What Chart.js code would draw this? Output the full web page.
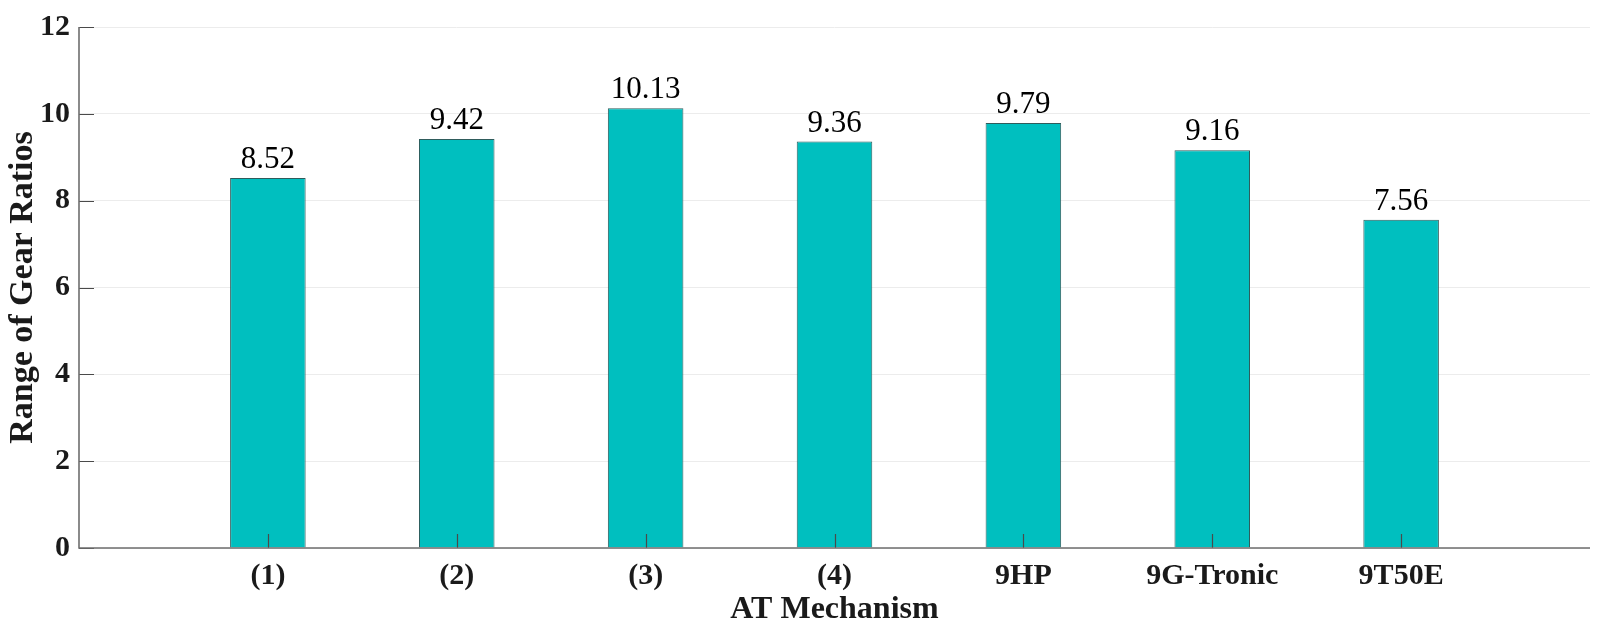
<!DOCTYPE html>
<html>
<head>
<meta charset="utf-8">
<script src="https://cdn.jsdelivr.net/npm/chart.js@4"></script>
<style>
  html, body { margin: 0; padding: 0; background: #fff; }
  #wrap { width: 1600px; height: 629px; }
</style>
</head>
<body>
<div id="wrap"><canvas id="c" width="1600" height="629"></canvas></div>
<script>
const categories = ['(1)', '(2)', '(3)', '(4)', '9HP', '9G-Tronic', '9T50E'];
const gearRange = [8.52, 9.42, 10.13, 9.36, 9.79, 9.16, 7.56];
const yTicks = [0, 2, 4, 6, 8, 10, 12];
const xTitle = 'AT Mechanism';
const yTitle = 'Range of Gear Ratios';

const FONT = '"Liberation Serif", "Times New Roman", serif';

const innerTicks = {
  id: 'innerTicks',
  afterDatasetsDraw(chart) {
    const ctx = chart.ctx;
    const xs = chart.scales.x, ys = chart.scales.y;
    ctx.save();
    ctx.strokeStyle = '#4a4a4a';
    ctx.lineWidth = 1.2;
    ctx.beginPath();
    yTicks.forEach(v => {
      const py = Math.round(ys.getPixelForValue(v)) + 0.5;
      ctx.moveTo(xs.left, py);
      ctx.lineTo(xs.left + 15, py);
    });
    categories.forEach((c, i) => {
      const px = Math.round(xs.getPixelForValue(i + 1)) + 0.5;
      ctx.moveTo(px, ys.bottom);
      ctx.lineTo(px, ys.bottom - 14);
    });
    ctx.stroke();
    // axis lines
    ctx.strokeStyle = '#6e6e6e';
    ctx.lineWidth = 1.6;
    ctx.beginPath();
    ctx.moveTo(xs.left, ys.top);
    ctx.lineTo(xs.left, ys.bottom);
    ctx.lineTo(xs.right, ys.bottom);
    ctx.stroke();
    // value labels
    const meta = chart.getDatasetMeta(0);
    ctx.fillStyle = '#000';
    ctx.font = '31px ' + FONT;
    ctx.textAlign = 'center';
    ctx.textBaseline = 'alphabetic';
    meta.data.forEach((bar, i) => {
      ctx.fillText(gearRange[i].toFixed(2), bar.x, bar.y - 10);
    });
    ctx.restore();
  }
};

new Chart(document.getElementById('c'), {
  type: 'bar',
  data: {
    datasets: [{
      data: gearRange.map((v, i) => ({ x: i + 1, y: v })),
      backgroundColor: '#00BFBF',
      borderColor: '#2f5c5c',
      borderWidth: 1,
      barPercentage: 0.4,
      categoryPercentage: 1.0
    }]
  },
  options: {
    responsive: false,
    animation: false,
    events: [],
    layout: { padding: { top: 17, right: 8, left: 0, bottom: 0 } },
    plugins: { legend: { display: false }, tooltip: { enabled: false } },
    scales: {
      x: {
        type: 'linear',
        offset: false,
        min: 0, max: 8,
        afterFit(s) { s.height = 81; },
        afterBuildTicks(s) { s.ticks = [0,1,2,3,4,5,6,7,8].map(v => ({ value: v })); },
        grid: { display: false, drawTicks: false, offset: false },
        border: { display: false },
        ticks: {
          padding: 10,
          maxRotation: 0,
          autoSkip: false,
          color: '#1a1a1a',
          font: { family: FONT, size: 30, weight: 'bold' },
          callback: v => categories[v - 1] ?? ''
        },
        title: {
          display: true, text: xTitle, color: '#1a1a1a',
          font: { family: FONT, size: 32, weight: 'bold' },
          padding: { top: 0, bottom: 0 }
        }
      },
      y: {
        min: 0, max: 12,
        afterFit(s) { s.width = 79; },
        afterBuildTicks(s) { s.ticks = yTicks.map(v => ({ value: v })); },
        grid: { color: '#ececec', lineWidth: 1, drawTicks: false },
        border: { display: false },
        ticks: {
          padding: 9,
          color: '#1a1a1a',
          font: { family: FONT, size: 30, weight: 'bold' }
        },
        title: {
          display: true, text: yTitle, color: '#1a1a1a',
          font: { family: FONT, size: 34, weight: 'bold' },
          padding: { top: 3, bottom: 0 }
        }
      }
    }
  },
  plugins: [innerTicks]
});
</script>
</body>
</html>
